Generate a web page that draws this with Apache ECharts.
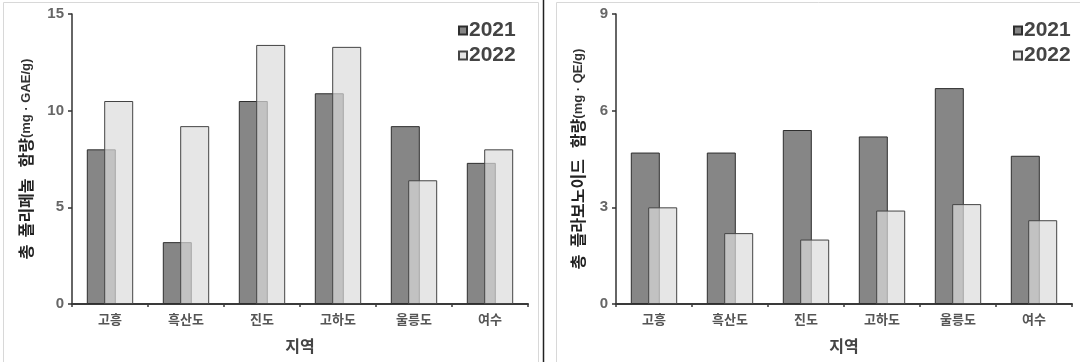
<!DOCTYPE html>
<html>
<head>
<meta charset="utf-8">
<script src="https://cdn.jsdelivr.net/npm/echarts@6/dist/echarts.min.js"></script>
<style>
html,body{margin:0;padding:0;background:#fff;}
#chart{width:1080px;height:362px;}
</style>
</head>
<body>
<div id="chart"></div>
<script>
const categories = ['고흥', '흑산도', '진도', '고하도', '울릉도', '여수'];
const seriesNames = ['2021', '2022'];
const polyphenol2021 = [8.0, 3.2, 10.5, 10.9, 9.2, 7.3];
const polyphenol2022 = [10.5, 9.2, 13.4, 13.3, 6.4, 8.0];
const flavonoid2021 = [4.7, 4.7, 5.4, 5.2, 6.7, 4.6];
const flavonoid2022 = [3.0, 2.2, 2.0, 2.9, 3.1, 2.6];
const polyAxis = { min: 0, max: 15, interval: 5 };
const flavAxis = { min: 0, max: 9, interval: 3 };
const polyName = ['총  폴리페놀   함량', '(mg · GAE/g)'];
const flavName = ['총  플라보노이드   함량', '(mg · QE/g)'];
const xName = '지역';

const FONT = '"Liberation Sans", "Noto Sans CJK KR", sans-serif';
const KFONT = '"Noto Sans CJK KR", "Liberation Sans", sans-serif';

const darkStyle = { color: '#868686', borderColor: '#2e2e2e', borderWidth: 1 };
const lightStyle = { color: 'rgba(219,219,219,0.7)', borderColor: '#444', borderWidth: 1 };

function xAxisCfg(gi) {
  return {
    type: 'category', gridIndex: gi, data: categories,
    name: xName, nameLocation: 'middle', nameGap: 34,
    nameTextStyle: { fontFamily: KFONT, fontWeight: 'bold', fontSize: 16, color: '#444' },
    axisLine: { lineStyle: { color: '#3a3a3a', width: 2 } },
    axisTick: { show: true, length: 3, lineStyle: { color: '#3a3a3a', width: 1.5 } },
    axisLabel: { fontFamily: KFONT, fontWeight: 'bold', fontSize: 13, color: '#555', margin: 9 }
  };
}
function yAxisCfg(gi, ax, nm, gap) {
  return {
    type: 'value', gridIndex: gi, min: ax.min, max: ax.max, interval: ax.interval,
    name: '{a|' + nm[0] + '}{b|' + nm[1] + '}', nameLocation: 'middle', nameRotate: 90, nameGap: gap,
    nameTextStyle: {
      rich: {
        a: { fontFamily: KFONT, fontWeight: 'bold', fontSize: 16, color: '#222' },
        b: { fontFamily: FONT, fontWeight: 'bold', fontSize: 13, color: '#333' }
      }
    },
    splitLine: { show: false },
    axisLine: { show: true, lineStyle: { color: '#333', width: 1.5 } },
    axisTick: { show: true, length: 4, lineStyle: { color: '#333', width: 1.5 } },
    axisLabel: { fontFamily: FONT, fontWeight: 'bold', fontSize: 15, color: '#666', margin: 8 }
  };
}
function legendCfg(left) {
  return {
    data: seriesNames, orient: 'vertical', left: left, top: 15,
    itemWidth: 8, itemHeight: 8, itemGap: 4, icon: 'rect',
    textStyle: { fontFamily: FONT, fontWeight: 'bold', fontSize: 21, color: '#444', padding: [0, 0, 0, -3] }
  };
}
function barSeries(name, xi, data, style) {
  return {
    type: 'bar', name: name, xAxisIndex: xi, yAxisIndex: xi, data: data,
    barWidth: 29, barGap: '-40%', itemStyle: style, emphasis: { disabled: true }
  };
}

const chart = echarts.init(document.getElementById('chart'), null, { renderer: 'canvas' });
chart.setOption({
  animation: false,
  backgroundColor: '#fff',
  grid: [
    { left: 72, top: 14, width: 456, height: 290 },
    { left: 616, top: 14, width: 456, height: 290 }
  ],
  xAxis: [xAxisCfg(0), xAxisCfg(1)],
  yAxis: [yAxisCfg(0, polyAxis, polyName, 38), yAxisCfg(1, flavAxis, flavName, 30)],
  legend: [legendCfg(453), legendCfg(1008)],
  series: [
    barSeries(seriesNames[0], 0, polyphenol2021, darkStyle),
    barSeries(seriesNames[1], 0, polyphenol2022, lightStyle),
    barSeries(seriesNames[0], 1, flavonoid2021, darkStyle),
    barSeries(seriesNames[1], 1, flavonoid2022, lightStyle)
  ],
  graphic: [
    { type: 'rect', shape: { x: 3.5, y: 2.5, width: 535, height: 380 }, style: { fill: 'none', stroke: '#d8d8d8', lineWidth: 1 }, silent: true },
    { type: 'line', shape: { x1: 543.5, y1: 0, x2: 543.5, y2: 362 }, style: { stroke: '#222', lineWidth: 1.5 }, silent: true },
    { type: 'rect', shape: { x: 556.5, y: 2.5, width: 540, height: 380 }, style: { fill: 'none', stroke: '#d8d8d8', lineWidth: 1 }, silent: true }
  ]
});
</script>
</body>
</html>
